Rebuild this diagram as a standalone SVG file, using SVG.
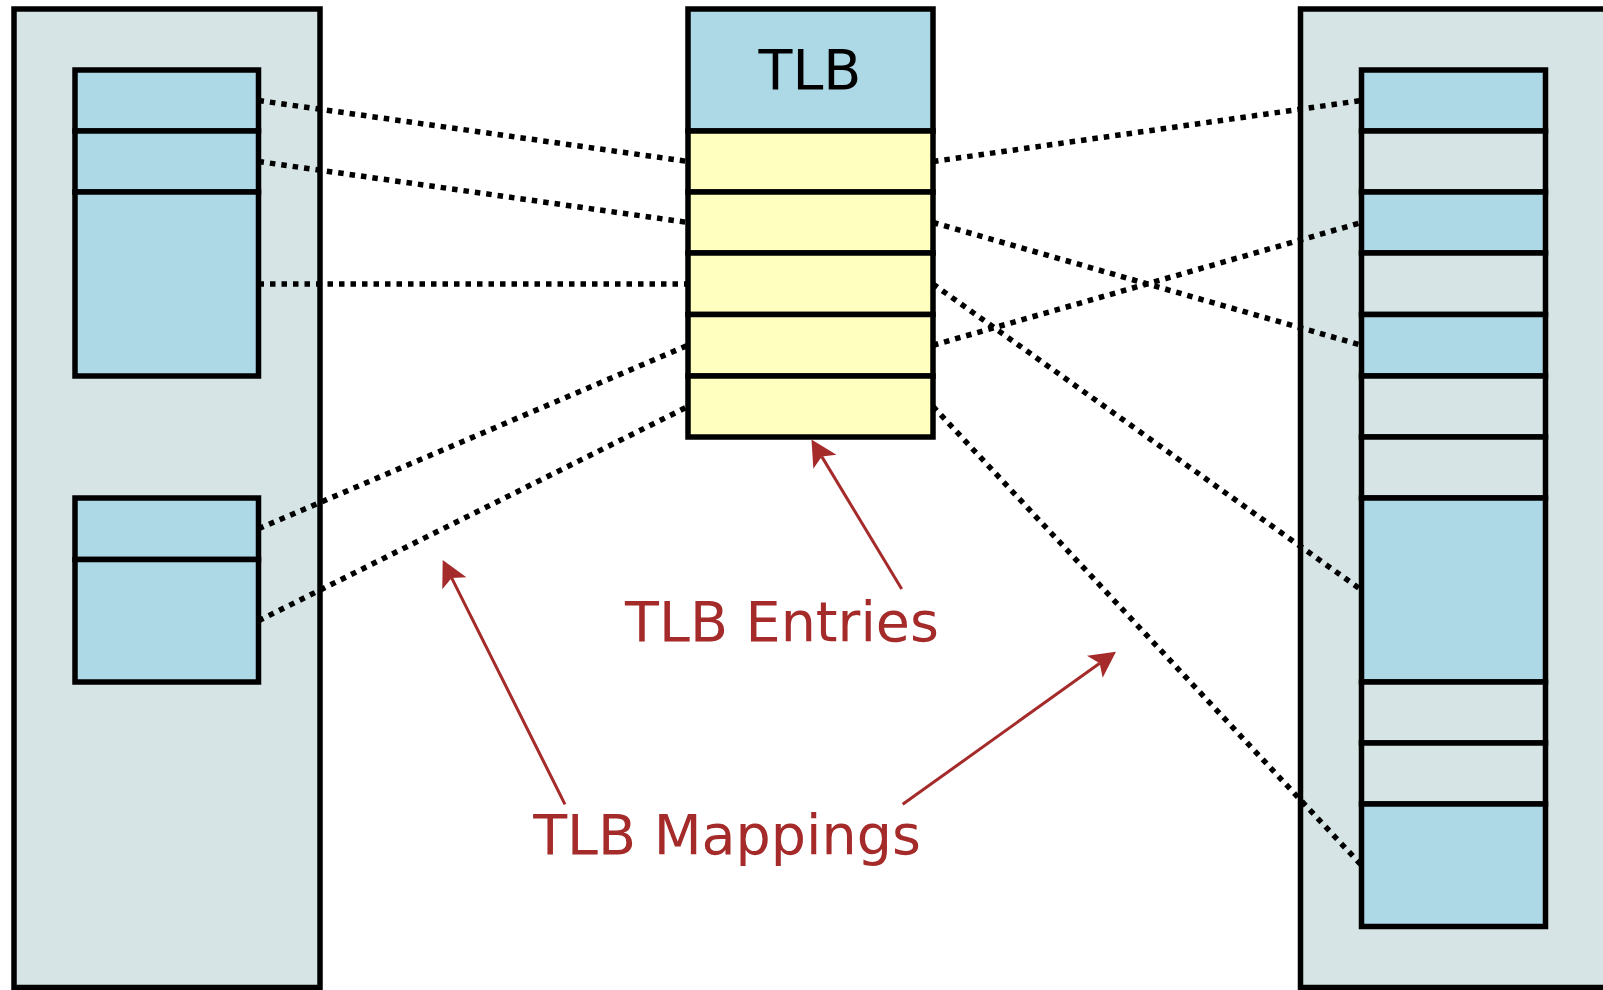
<svg xmlns="http://www.w3.org/2000/svg" width="1603" height="990" viewBox="0 0 1603 990">
<style>
.panel{fill:#d6e4e5;stroke:#000;stroke-width:5.5}
.blue{fill:#add8e6;stroke:#000;stroke-width:5.5}
.grey{fill:#d6e4e5;stroke:#000;stroke-width:5.5}
.yel{fill:#ffffc0;stroke:#000;stroke-width:5.5}
.dot{fill:none;stroke:#000;stroke-width:5.5;stroke-dasharray:5.5 6}
.arr{fill:none;stroke:#a52a2a;stroke-width:3}
.lbl{font-family:"DejaVu Sans",Verdana,sans-serif;font-size:55.5px;fill:#a52a2a;text-anchor:middle}
.ttl{font-family:"DejaVu Sans",Verdana,sans-serif;font-size:55.5px;fill:#000;text-anchor:middle}
</style>
<defs>
<marker id="ah" markerUnits="userSpaceOnUse" viewBox="-7 -15 28 30" markerWidth="28" markerHeight="30" refX="0" refY="0" orient="auto">
<path d="M20,0 L-6,-13.5 L0,0 L-6,13.5 Z" fill="#a52a2a"/>
</marker>
</defs>
<rect width="1603" height="990" fill="#fff"/>
<g id="left-panel">
<rect class="panel" x="14" y="9" width="306" height="978.5"/>
</g>
<g id="left-block-1">
<rect class="blue" x="75" y="70" width="183.5" height="61"/>
<rect class="blue" x="75" y="131" width="183.5" height="61"/>
<rect class="blue" x="75" y="192" width="183.5" height="184"/>
</g>
<g id="left-block-2">
<rect class="blue" x="75" y="498" width="183.5" height="61.5"/>
<rect class="blue" x="75" y="559.5" width="183.5" height="122.5"/>
</g>
<g id="right-panel">
<rect class="panel" x="1300.5" y="9" width="310" height="978.5"/>
</g>
<g id="right-block">
<rect class="blue" x="1361.5" y="70" width="184" height="61"/>
<rect class="grey" x="1361.5" y="131" width="184" height="61"/>
<rect class="blue" x="1361.5" y="192" width="184" height="61"/>
<rect class="grey" x="1361.5" y="253" width="184" height="61.5"/>
<rect class="blue" x="1361.5" y="314.5" width="184" height="61.5"/>
<rect class="grey" x="1361.5" y="376" width="184" height="61"/>
<rect class="grey" x="1361.5" y="437" width="184" height="61"/>
<rect class="blue" x="1361.5" y="498" width="184" height="184"/>
<rect class="grey" x="1361.5" y="682" width="184" height="61"/>
<rect class="grey" x="1361.5" y="743" width="184" height="61"/>
<rect class="blue" x="1361.5" y="804" width="184" height="122.5"/>
</g>
<g id="tlb">
<rect class="blue" x="688" y="9" width="245" height="122"/>
<text class="ttl" x="810" y="88.5">TLB</text>
<rect class="yel" x="688" y="131" width="245" height="61"/>
<rect class="yel" x="688" y="192" width="245" height="61"/>
<rect class="yel" x="688" y="253" width="245" height="61.5"/>
<rect class="yel" x="688" y="314.5" width="245" height="61.5"/>
<rect class="yel" x="688" y="376" width="245" height="61"/>
</g>
<g id="connectors">
<line class="dot" x1="258.5" y1="100.5" x2="688" y2="161.5"/>
<line class="dot" x1="258.5" y1="161.5" x2="688" y2="222.5"/>
<line class="dot" x1="258.5" y1="284" x2="688" y2="284"/>
<line class="dot" x1="258.5" y1="528.75" x2="688" y2="345.25"/>
<line class="dot" x1="258.5" y1="620.75" x2="688" y2="406.5"/>
<line class="dot" x1="933" y1="161.5" x2="1361.5" y2="100.5"/>
<line class="dot" x1="933" y1="222.5" x2="1361.5" y2="345.25"/>
<line class="dot" x1="933" y1="284" x2="1361.5" y2="590"/>
<line class="dot" x1="933" y1="345.25" x2="1361.5" y2="222.5"/>
<line class="dot" x1="933" y1="406.5" x2="1361.5" y2="865.25"/>
</g>
<g id="annotations">
<line class="arr" x1="901.7" y1="589" x2="821.8" y2="456.6" marker-end="url(#ah)"/>
<line class="arr" x1="565" y1="804.3" x2="451.65" y2="577.9" marker-end="url(#ah)"/>
<line class="arr" x1="902.7" y1="804.3" x2="1099.7" y2="663.3" marker-end="url(#ah)"/>
<text class="lbl" x="782" y="640.5">TLB Entries</text>
<text class="lbl" x="727" y="854">TLB Mappings</text>
</g>
</svg>
